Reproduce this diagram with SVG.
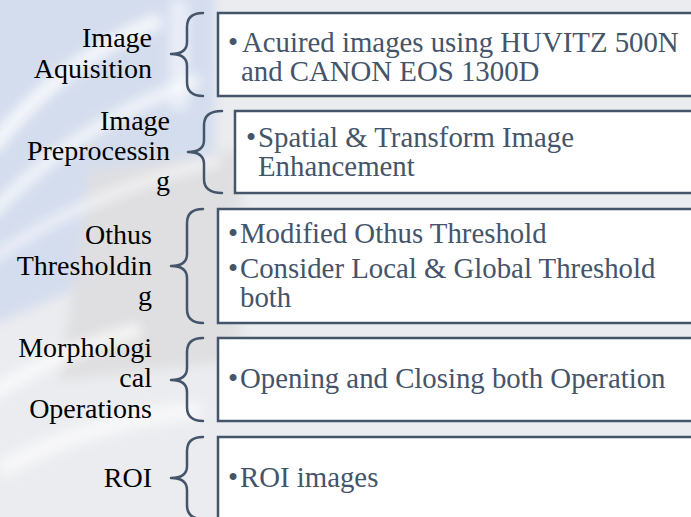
<svg xmlns="http://www.w3.org/2000/svg" width="691" height="517" viewBox="0 0 691 517">
  <defs>
    <filter id="soft" x="-20%" y="-20%" width="140%" height="140%">
      <feGaussianBlur stdDeviation="6"/>
    </filter>
    <style>
      .label { font-family: 'Liberation Serif', 'Times New Roman', 'DejaVu Serif', serif; font-size: 28px; fill: #000000; text-anchor: end; }
      .item { font-family: 'Liberation Serif', 'Times New Roman', 'DejaVu Serif', serif; font-size: 28.8px; fill: #44546A; }
      .box { fill: #ffffff; stroke: #44546A; stroke-width: 2.5; }
      .brace { fill: none; stroke: #44546A; stroke-width: 2.5; stroke-linecap: round; stroke-linejoin: round; }
    </style>
  </defs>

  <!-- faded backdrop -->
  <g id="backdrop">
    <rect x="0" y="0" width="691" height="517" fill="#ebecef"/>
    <g filter="url(#soft)">
      <polygon points="-20,-20 215,-20 215,230 -20,330" fill="#d4ddee"/>
      <polygon points="90,170 240,150 240,360 60,380" fill="#dfdfe1"/>
      <path d="M-10,150 Q60,60 160,20" stroke="#ffffff" stroke-width="14" fill="none" opacity="0.8"/>
      <path d="M-10,215 Q80,120 200,80" stroke="#ffffff" stroke-width="12" fill="none" opacity="0.7"/>
      <path d="M-10,260 Q90,190 220,160" stroke="#ffffff" stroke-width="10" fill="none" opacity="0.6"/>
      <path d="M-10,395 Q60,350 140,330" stroke="#ffffff" stroke-width="14" fill="none" opacity="0.7"/>
      <path d="M0,470 Q90,420 200,410" stroke="#ffffff" stroke-width="18" fill="none" opacity="0.6"/>
      <rect x="170" y="0" width="18" height="110" fill="#ffffff" opacity="0.5"/>
    </g>
  </g>

  <!-- brackets -->
  <g id="connectors">
    <path class="brace" d="M203,13 Q187,13 187,27 L187,42 Q187,54 171,54 Q187,54 187,66 L187,82 Q187,96 203,96"/>
    <path class="brace" d="M222,111 Q204,111 204,125 L204,140 Q204,152 188,152 Q204,152 204,164 L204,179 Q204,193 222,193"/>
    <path class="brace" d="M203,209 Q187,209 187,223 L187,254 Q187,266 171,266 Q187,266 187,278 L187,309 Q187,323 203,323"/>
    <path class="brace" d="M203,338 Q187,338 187,352 L187,368 Q187,380 171,380 Q187,380 187,392 L187,407 Q187,421 203,421"/>
    <path class="brace" d="M203,437 Q187,437 187,451 L187,466 Q187,478 171,478 Q187,478 187,490 L187,505 Q187,519 203,519"/>
  </g>

  <!-- steps -->
  <g id="step-acquisition">
    <text class="label"><tspan x="152" y="47">Image</tspan><tspan x="152" y="78">Aquisition</tspan></text>
    <rect class="box" x="218" y="13" width="490" height="83"/>
    <text class="item"><tspan x="228" y="52">•</tspan><tspan x="242" y="52">Acuired images using HUVITZ 500N</tspan></text>
    <text class="item" x="241" y="81">and CANON EOS 1300D</text>
  </g>

  <g id="step-preprocessing">
    <text class="label"><tspan x="170" y="130">Image</tspan><tspan x="170" y="160">Preprocessin</tspan><tspan x="170" y="190">g</tspan></text>
    <rect class="box" x="235" y="111" width="470" height="82"/>
    <text class="item"><tspan x="246" y="147">•</tspan><tspan x="258" y="147">Spatial &amp; Transform Image</tspan></text>
    <text class="item" x="258" y="176">Enhancement</text>
  </g>

  <g id="step-thresholding">
    <text class="label"><tspan x="152" y="244">Othus</tspan><tspan x="152" y="275">Thresholdin</tspan><tspan x="152" y="305">g</tspan></text>
    <rect class="box" x="218" y="209" width="490" height="114"/>
    <text class="item"><tspan x="228" y="243">•</tspan><tspan x="240" y="243">Modified Othus Threshold</tspan></text>
    <text class="item"><tspan x="228" y="278">•</tspan><tspan x="240" y="278">Consider Local &amp; Global Threshold</tspan></text>
    <text class="item" x="240" y="307">both</text>
  </g>

  <g id="step-morphology">
    <text class="label"><tspan x="152" y="357">Morphologi</tspan><tspan x="152" y="387">cal</tspan><tspan x="152" y="418">Operations</tspan></text>
    <rect class="box" x="218" y="338" width="490" height="83"/>
    <text class="item"><tspan x="228" y="388">•</tspan><tspan x="240" y="388">Opening and Closing both Operation</tspan></text>
  </g>

  <g id="step-roi">
    <text class="label"><tspan x="152" y="487">ROI</tspan></text>
    <rect class="box" x="218" y="437" width="490" height="100"/>
    <text class="item"><tspan x="228" y="487">•</tspan><tspan x="240" y="487">ROI images</tspan></text>
  </g>
</svg>
